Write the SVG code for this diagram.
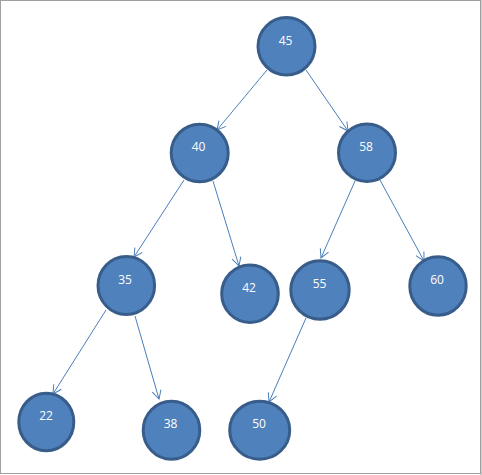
<svg xmlns="http://www.w3.org/2000/svg" width="482" height="475" viewBox="0 0 482 475">
<style>
.node ellipse{fill:#4F81BD;stroke:#385D8A;stroke-width:3}
.node text{fill:#FFFFFF;font-family:"Open Sans","Noto Sans",sans-serif;font-size:12px;text-anchor:middle}
.edges line{stroke:#4A7EBB;stroke-width:1;fill:none}
</style>
<defs>
<marker id="arr" markerUnits="userSpaceOnUse" markerWidth="12" markerHeight="12" viewBox="-10 -6 12 12" refX="0" refY="0" orient="auto">
<path d="M-8.5,-4.5 L0,0 L-8.5,4.5" fill="none" stroke="#4A7EBB" stroke-width="1"/>
</marker>
</defs>
<rect x="0.5" y="0.5" width="480" height="473" fill="#FFFFFF" stroke="#A0A0A0" stroke-width="1"/>
<line x1="481" y1="0" x2="481" y2="475" stroke="#A0A0A0" stroke-width="1"/>
<g class="edges" marker-end="url(#arr)">
<line x1="267" y1="70" x2="217" y2="130" marker-end="url(#arr)"/>
<line x1="306" y1="70" x2="348" y2="131" marker-end="url(#arr)"/>
<line x1="184" y1="180" x2="134" y2="257" marker-end="url(#arr)"/>
<line x1="213" y1="181" x2="239" y2="266" marker-end="url(#arr)"/>
<line x1="355" y1="181" x2="321" y2="258" marker-end="url(#arr)"/>
<line x1="380" y1="180" x2="424" y2="261" marker-end="url(#arr)"/>
<line x1="106" y1="310" x2="53" y2="394" marker-end="url(#arr)"/>
<line x1="135" y1="316" x2="159" y2="399" marker-end="url(#arr)"/>
<line x1="306" y1="318" x2="269" y2="402" marker-end="url(#arr)"/>
</g>
<g id="n45" class="node"><ellipse cx="286.5" cy="46.3" rx="28.5" ry="28.8"/><text x="285.5" y="44.5">45</text></g>
<g id="n40" class="node"><ellipse cx="199.7" cy="153" rx="28.5" ry="28.8"/><text x="198.5" y="151">40</text></g>
<g id="n58" class="node"><ellipse cx="367" cy="152.7" rx="28.5" ry="28.8"/><text x="366" y="151">58</text></g>
<g id="n35" class="node"><ellipse cx="126.3" cy="285.5" rx="28.3" ry="29"/><text x="125" y="283.5">35</text></g>
<g id="n42" class="node"><ellipse cx="250" cy="293.7" rx="28.3" ry="28.8"/><text x="249" y="291.7">42</text></g>
<g id="n55" class="node"><ellipse cx="320" cy="290" rx="29.2" ry="29.2"/><text x="319.5" y="287.8">55</text></g>
<g id="n60" class="node"><ellipse cx="438" cy="286" rx="28.2" ry="29.2"/><text x="437" y="283.8">60</text></g>
<g id="n22" class="node"><ellipse cx="46.3" cy="422" rx="27.5" ry="28.8"/><text x="46" y="420">22</text></g>
<g id="n38" class="node"><ellipse cx="171.5" cy="430.2" rx="28.3" ry="29"/><text x="170.5" y="427.8">38</text></g>
<g id="n50" class="node"><ellipse cx="259.7" cy="430.2" rx="30" ry="29"/><text x="259" y="427.8">50</text></g>
</svg>
